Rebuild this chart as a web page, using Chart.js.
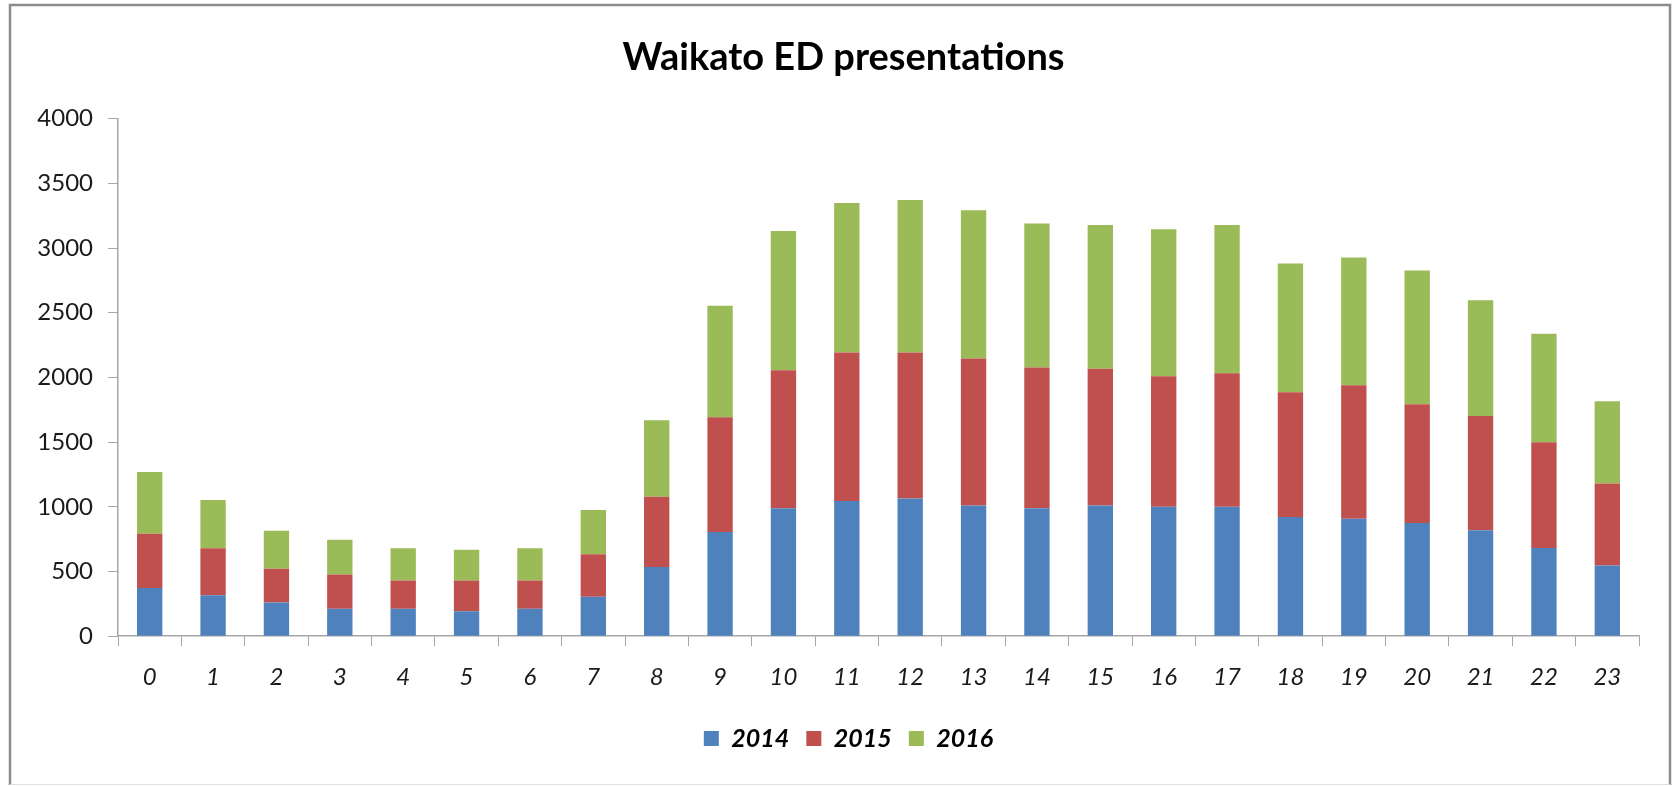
<!DOCTYPE html>
<html>
<head>
<meta charset="utf-8">
<title>Waikato ED presentations</title>
<script src="https://cdn.jsdelivr.net/npm/chart.js@4/dist/chart.umd.min.js"></script>
<style>
  body { margin: 0; background: #fff; }
  canvas { display: block; }
</style>
</head>
<body>
<canvas id="bar-chart" width="1673" height="786"></canvas>
<script>
'use strict';

// hour of day
const hours = ['0', '1', '2', '3', '4', '5', '6', '7', '8', '9', '10', '11',
               '12', '13', '14', '15', '16', '17', '18', '19', '20', '21', '22', '23'];

// presentations per hour
const y2014 = [373, 316, 260, 213, 213, 193, 213, 305, 534, 805, 988, 1045,
               1065, 1011, 988, 1011, 1001, 1001, 921, 908, 874, 818, 681, 547];
const y2015 = [419, 363, 262, 263, 217, 237, 217, 329, 544, 887, 1067, 1147,
               1127, 1135, 1088, 1055, 1008, 1031, 964, 1031, 918, 884, 817, 634];
const y2016 = [476, 373, 293, 270, 249, 239, 249, 341, 591, 861, 1076, 1156,
               1179, 1145, 1114, 1111, 1135, 1145, 996, 988, 1035, 895, 839, 635];

const yTicks = [0, 500, 1000, 1500, 2000, 2500, 3000, 3500, 4000];

const FONT = 'Lato, "Open Sans", sans-serif';
const AXIS_GREY = '#a6a6a6';

// grey frame round the whole chart, like the Excel chart area
const frame = {
  id: 'frame',
  beforeDraw(chart) {
    const ctx = chart.ctx;
    ctx.save();
    ctx.fillStyle = '#fff';
    ctx.fillRect(0, 0, chart.width, chart.height);
    ctx.strokeStyle = '#8c8c8c';
    ctx.lineWidth = 2.5;
    ctx.beginPath();
    ctx.moveTo(10, 785);
    ctx.lineTo(10, 5);
    ctx.lineTo(1670, 5);
    ctx.lineTo(1670, 785);
    ctx.stroke();
    ctx.strokeStyle = '#e0e0e0';
    ctx.lineWidth = 1;
    ctx.beginPath();
    ctx.moveTo(10, 784.5);
    ctx.lineTo(1670, 784.5);
    ctx.stroke();
    ctx.restore();
  }
};

// Excel centres title and legend on the page, not on the padded box
const centreShift = {
  id: 'centreShift',
  afterLayout(chart) {
    chart.titleBlock.left += 24;
    chart.titleBlock.right += 24;
    chart.legend.left += 29;
    chart.legend.right += 29;
  }
};

const barChart = new Chart(document.querySelector('#bar-chart'), {
  type: 'bar',
  data: {
    labels: hours,
    datasets: [
      { label: '2014', data: y2014, backgroundColor: '#4f81bd' },
      { label: '2015', data: y2015, backgroundColor: '#c0504d' },
      { label: '2016', data: y2016, backgroundColor: '#9bbb59' }
    ]
  },
  options: {
    responsive: false,
    animation: false,
    datasets: {
      bar: {
        categoryPercentage: 1,
        barPercentage: 0.4
      }
    },
    layout: {
      padding: { left: 0, right: 34, top: 0, bottom: 25 }
    },
    plugins: {
      title: {
        display: true,
        text: 'Waikato ED presentations',
        color: '#000',
        font: { family: FONT, size: 38, weight: 'bold' },
        padding: { top: 35, bottom: 38 }
      },
      legend: {
        position: 'bottom',
        labels: {
          color: '#000',
          font: { family: FONT, size: 25, weight: 'bold', style: 'italic' },
          boxWidth: 15,
          boxHeight: 15,
          padding: 17
        }
      },
      tooltip: { enabled: false }
    },
    scales: {
      x: {
        stacked: true,
        grid: {
          display: true,
          drawOnChartArea: false,
          drawTicks: true,
          tickLength: 10,
          color: AXIS_GREY
        },
        border: { color: AXIS_GREY, width: 1.5 },
        ticks: {
          color: '#1a1a1a',
          padding: 17,
          maxRotation: 0,
          font: { family: FONT, size: 24, style: 'italic' }
        }
      },
      y: {
        stacked: true,
        min: 0,
        max: 4000,
        afterBuildTicks: scale => {
          scale.ticks = yTicks.map(v => ({ value: v }));
        },
        afterFit: scale => {
          scale.width = 118;
        },
        grid: {
          display: true,
          drawOnChartArea: false,
          drawTicks: true,
          tickLength: 10,
          color: AXIS_GREY
        },
        border: { color: AXIS_GREY, width: 1.5 },
        ticks: {
          color: '#1a1a1a',
          padding: 15,
          font: { family: FONT, size: 24 },
          callback: value => String(value)
        }
      }
    }
  },
  plugins: [frame, centreShift]
});
</script>
</body>
</html>
